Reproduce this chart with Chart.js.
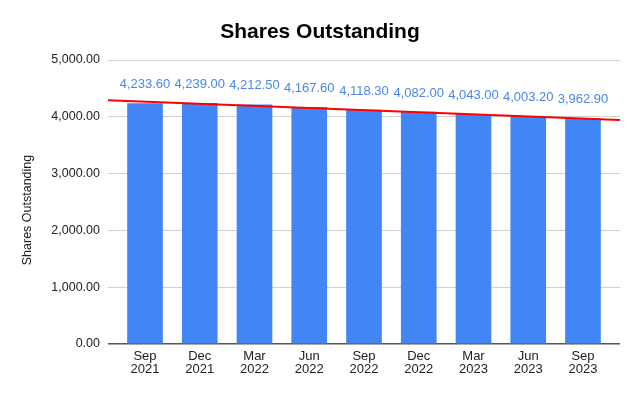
<!DOCTYPE html>
<html>
<head>
<meta charset="utf-8">
<script src="https://cdn.jsdelivr.net/npm/chart.js@4.4.0/dist/chart.umd.min.js"></script>
<style>
  html, body { margin: 0; padding: 0; background: #fff; }
  #wrap { width: 640px; height: 396px; }
</style>
</head>
<body>
<div id="wrap"><canvas id="chart" width="640" height="396"></canvas></div>
<script>
const quarters = [['Sep', '2021'], ['Dec', '2021'], ['Mar', '2022'], ['Jun', '2022'], ['Sep', '2022'],
                  ['Dec', '2022'], ['Mar', '2023'], ['Jun', '2023'], ['Sep', '2023']];
const shares = [4233.6, 4239.0, 4212.5, 4167.6, 4118.3, 4082.0, 4043.0, 4003.2, 3962.9];
const yTicks = [0, 1000, 2000, 3000, 4000, 5000];
const yTitle = 'Shares Outstanding';

const fmt = v => v.toLocaleString('en-US', { minimumFractionDigits: 2, maximumFractionDigits: 2 });

// x range padded so the grid runs a bit past the outer bars
const xMin = -0.676, xMax = 8.676;

// least squares trendline over the bars
const n = shares.length;
const mx = (n - 1) / 2;
const my = shares.reduce((a, b) => a + b, 0) / n;
let sxy = 0, sxx = 0;
shares.forEach((v, i) => { sxy += (i - mx) * (v - my); sxx += (i - mx) * (i - mx); });
const slope = sxy / sxx;
const trend = x => my + slope * (x - mx);

// value labels above the bars + y axis title (sits a bit below the plot middle)
const barLabels = {
  id: 'barLabels',
  afterDatasetsDraw(chart) {
    const ctx = chart.ctx;
    const meta = chart.getDatasetMeta(1);
    ctx.save();
    ctx.fillStyle = '#4a86e8';
    ctx.font = '13px "Liberation Sans", Arial, sans-serif';
    ctx.textAlign = 'center';
    ctx.textBaseline = 'middle';
    meta.data.forEach((el, i) => {
      ctx.fillText(fmt(shares[i]), el.x, el.y - 19);
    });
    ctx.translate(28, 210);
    ctx.rotate(-Math.PI / 2);
    ctx.fillStyle = '#222';
    ctx.font = '12.5px "Liberation Sans", Arial, sans-serif';
    ctx.fillText(yTitle, 0, 0);
    ctx.restore();
  }
};

new Chart(document.getElementById('chart'), {
  type: 'bar',
  data: {
    datasets: [
      {
        type: 'line',
        data: [{ x: xMin, y: trend(xMin) }, { x: xMax, y: trend(xMax) }],
        borderColor: '#ff0000',
        borderWidth: 2,
        pointRadius: 0,
        order: 0
      },
      {
        type: 'bar',
        data: shares.map((v, i) => ({ x: i, y: v })),
        backgroundColor: '#4285f4',
        barThickness: 35,
        order: 1
      }
    ]
  },
  options: {
    responsive: false,
    animation: false,
    layout: { padding: { left: 20, right: 20, top: 0, bottom: 0 } },
    plugins: {
      legend: { display: false },
      tooltip: { enabled: false },
      title: {
        display: true,
        text: 'Shares Outstanding',
        color: '#000',
        font: { family: '"Liberation Sans", Arial, sans-serif', size: 21, weight: 'bold', lineHeight: 1.2 },
        padding: { top: 20, bottom: 14.8 }
      }
    },
    scales: {
      x: {
        type: 'linear',
        offset: false,
        min: xMin,
        max: xMax,
        afterBuildTicks: s => { s.ticks = quarters.map((q, i) => ({ value: i })); },
        afterFit: s => { s.height = 52; },
        grid: { display: false, drawTicks: false },
        border: { display: false },
        ticks: {
          padding: 6,
          color: '#222',
          autoSkip: false,
          maxRotation: 0,
          font: { family: '"Liberation Sans", Arial, sans-serif', size: 13, lineHeight: 1.0 },
          callback: v => quarters[v]
        }
      },
      y: {
        min: 0,
        max: 5000,
        afterBuildTicks: s => { s.ticks = yTicks.map(v => ({ value: v })); },
        afterFit: s => { s.width = 88; },
        grid: {
          drawTicks: false,
          color: c => c.tick.value === 0 ? '#555' : '#d0d0d0',
          lineWidth: c => c.tick.value === 0 ? 1.5 : 1
        },
        border: { display: false },
        ticks: {
          padding: 8,
          color: '#222',
          font: { family: '"Liberation Sans", Arial, sans-serif', size: 12.5 },
          callback: v => fmt(v)
        }
      }
    }
  },
  plugins: [barLabels]
});
</script>
</body>
</html>
